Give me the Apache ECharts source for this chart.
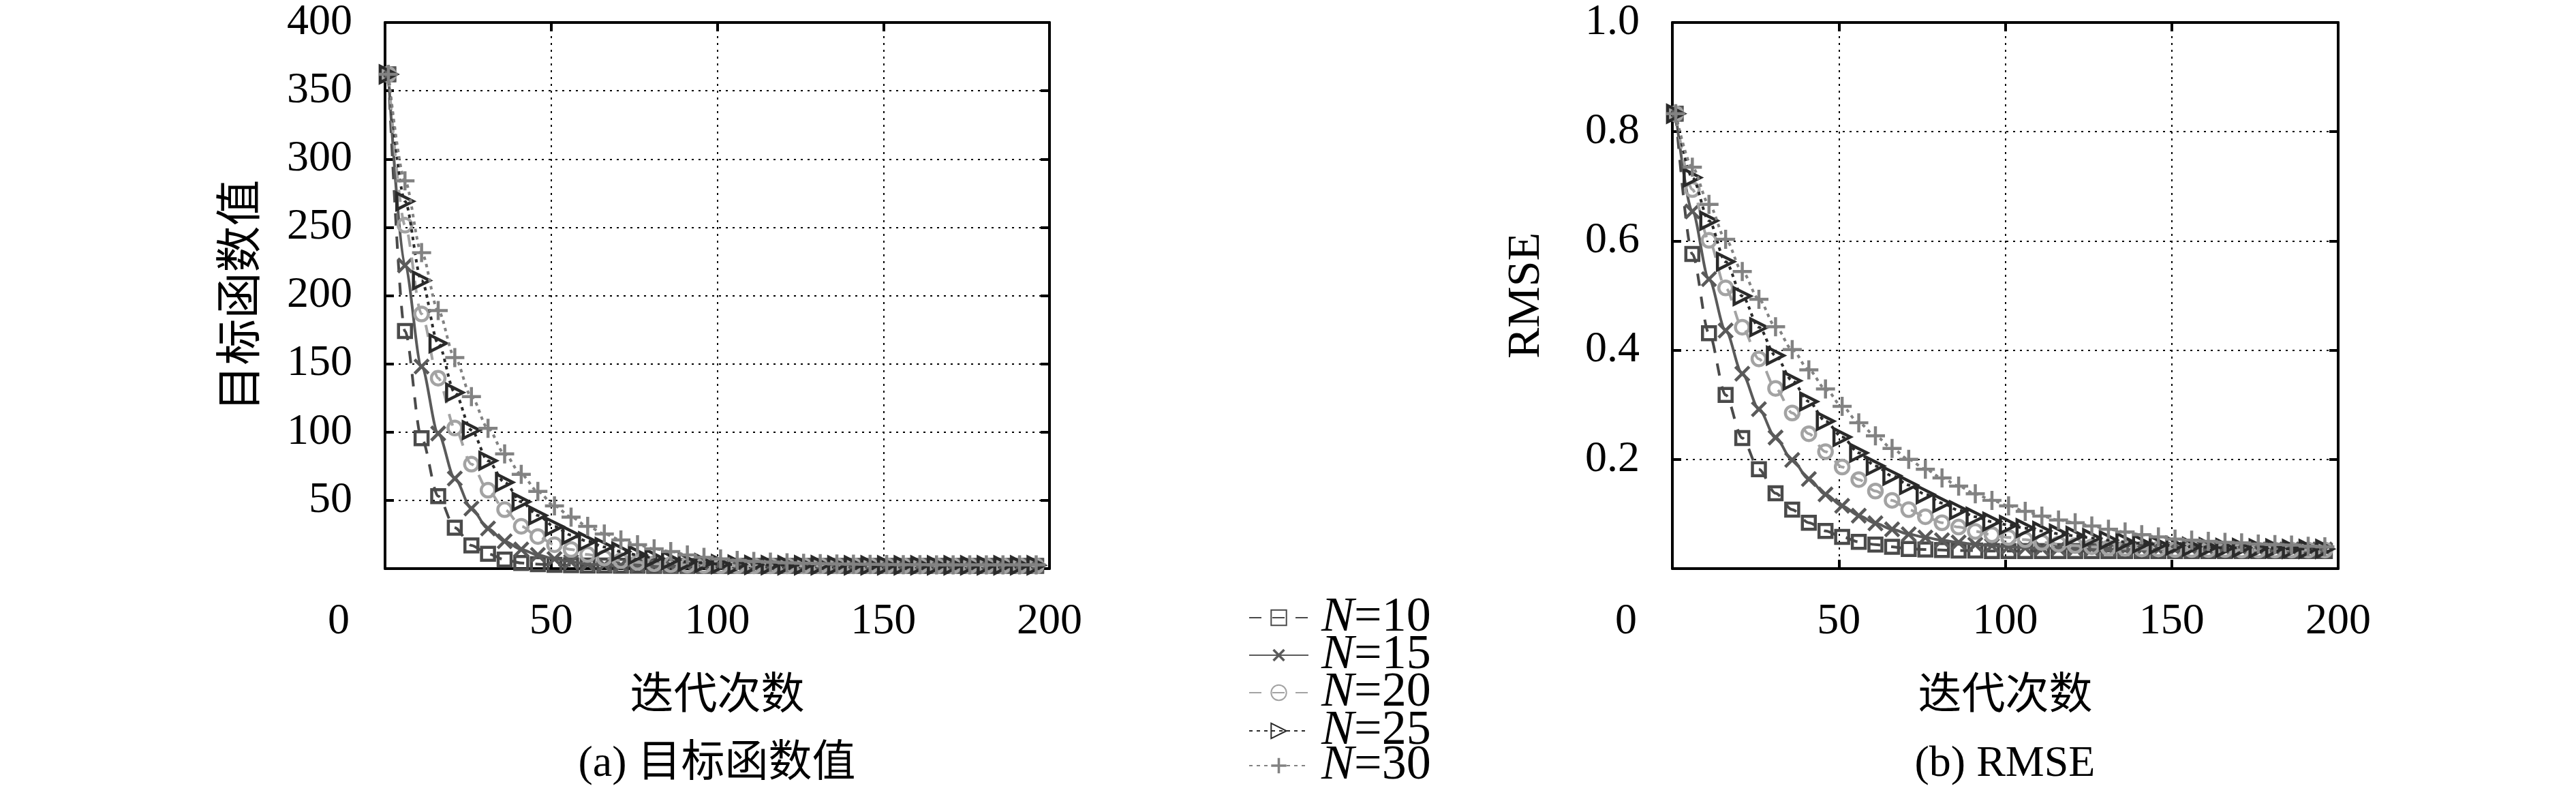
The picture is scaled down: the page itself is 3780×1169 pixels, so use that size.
<!DOCTYPE html>
<html><head><meta charset="utf-8">
<script src="https://cdn.jsdelivr.net/npm/echarts@6/dist/echarts.min.js"></script>
<style>html,body{margin:0;padding:0;background:#fff}#c{width:3780px;height:1169px}</style>
</head><body><div id="c"></div>
<script>
// ---- data ----
const ITER = [1,6,11,16,21,26,31,36,41,46,51,56,61,66,71,76,81,86,91,96,101,106,111,116,121,126,131,136,141,146,151,156,161,166,171,176,181,186,191,196];
const SERIES_NAMES = ['N=10','N=15','N=20','N=25','N=30'];

// (a) objective function value
const OBJ_N10 = [362,174,95.5,53,30,17,10.8,6.6,4.1,3.3,2.8,2.5,2.3,2.2,2.1,2.1,2.0,2.0,2.0,2.0,2.0,2.0,2.0,2.0,2.0,2.0,2.0,2.0,2.0,2.0,2.0,2.0,2.0,2.0,2.0,2.0,2.0,2.0,2.0,2.0];
const OBJ_N15 = [362,222,148,99,66,44,29.4,20,14,10,7.1,5,3.3,2.7,2.4,2.2,2.1,2.0,2.0,2.0,2.0,2.0,2.0,2.0,2.0,2.0,2.0,2.0,2.0,2.0,2.0,2.0,2.0,2.0,2.0,2.0,2.0,2.0,2.0,2.0];
const OBJ_N20 = [362,251.5,186.5,139.5,103,76.5,57.4,43.2,31,23.5,17.5,14,10.3,7.8,5.8,4.6,3.6,3.0,2.6,2.4,2.2,2.1,2.0,2.0,2.0,2.0,2.0,2.0,2.0,2.0,2.0,2.0,2.0,2.0,2.0,2.0,2.0,2.0,2.0,2.0];
const OBJ_N25 = [362,269,211,165,129,101.4,79,63.2,49,39,30.8,24.6,20,15.8,12.5,10,7.8,6.3,5,4.1,3.3,2.9,2.7,2.6,2.5,2.5,2.5,2.4,2.4,2.4,2.4,2.4,2.4,2.4,2.4,2.4,2.4,2.4,2.4,2.4];
const OBJ_N30 = [362,284,231.4,189,154.6,126,102.7,84,69,56.5,46,37.7,31,25.4,21,17.5,14.5,12.5,10,8.3,7.1,6.0,5.3,4.7,4.2,3.9,3.6,3.4,3.2,3.1,3.0,2.9,2.9,2.8,2.8,2.8,2.7,2.7,2.7,2.7];

// (b) RMSE
const RMSE_N10 = [0.833,0.576,0.431,0.318,0.239,0.182,0.138,0.108,0.084,0.069,0.058,0.049,0.044,0.040,0.036,0.035,0.034,0.033,0.033,0.032,0.032,0.032,0.032,0.032,0.032,0.032,0.032,0.032,0.032,0.032,0.032,0.032,0.032,0.032,0.032,0.032,0.032,0.032,0.032,0.032];
const RMSE_N15 = [0.833,0.654,0.530,0.436,0.357,0.292,0.240,0.199,0.164,0.136,0.115,0.097,0.083,0.072,0.063,0.057,0.052,0.048,0.044,0.042,0.040,0.038,0.037,0.037,0.036,0.036,0.036,0.035,0.035,0.035,0.035,0.035,0.035,0.035,0.035,0.035,0.035,0.035,0.035,0.035];
const RMSE_N20 = [0.833,0.694,0.601,0.514,0.442,0.384,0.330,0.285,0.247,0.214,0.186,0.163,0.142,0.125,0.108,0.095,0.084,0.076,0.068,0.062,0.057,0.053,0.048,0.045,0.042,0.040,0.038,0.037,0.036,0.036,0.035,0.035,0.035,0.035,0.034,0.034,0.034,0.034,0.034,0.034];
const RMSE_N25 = [0.833,0.716,0.637,0.562,0.499,0.442,0.390,0.344,0.306,0.270,0.241,0.212,0.188,0.170,0.153,0.136,0.120,0.107,0.095,0.086,0.080,0.074,0.069,0.064,0.060,0.056,0.052,0.049,0.046,0.044,0.042,0.040,0.039,0.038,0.038,0.037,0.037,0.036,0.036,0.036];
const RMSE_N30 = [0.833,0.735,0.667,0.603,0.544,0.493,0.443,0.401,0.364,0.329,0.297,0.267,0.243,0.220,0.200,0.182,0.166,0.151,0.137,0.125,0.115,0.105,0.096,0.089,0.084,0.078,0.072,0.067,0.062,0.058,0.054,0.052,0.050,0.048,0.047,0.045,0.044,0.043,0.041,0.040];

const OBJ = [OBJ_N10, OBJ_N15, OBJ_N20, OBJ_N25, OBJ_N30];
const RMSE = [RMSE_N10, RMSE_N15, RMSE_N20, RMSE_N25, RMSE_N30];

// ---- styles ----
const SERIF = '"Liberation Serif","DejaVu Serif",serif';
const CJK = '"Liberation Serif","Noto Sans CJK SC",sans-serif';
const PLUS = 'path://M4.2,0H5.8V10H4.2ZM0,4.2H10V5.8H0Z';
const STY = [
  {color:'#4a4a4a', dash:[18,16], symbol:'rect', size:19, hollow:true, rot:0},
  {color:'#5a5a5a', dash:'solid', symbol:PLUS, size:29, hollow:false, rot:45},
  {color:'#a3a3a3', dash:[18,16], symbol:'circle', size:20, hollow:true, rot:0},
  {color:'#2a2a2a', dash:[5,6], symbol:'triangle', size:24, hollow:true, rot:-90},
  {color:'#828282', dash:[5,6], symbol:PLUS, size:28, hollow:false, rot:0}
];
const LEGEND_TOPS = [870, 925, 980, 1036, 1087];

const GRIDS = [
  {left:565, top:33, width:975, height:801},
  {left:2454, top:33, width:977, height:801}
];

function xLabelFmt(v){ return v === 0 ? '{z|0}' : String(v); }
const AX_LINE = {show:true, onZero:false, lineStyle:{color:'#000', width:4}};
const AX_TICK = {show:true, inside:true, length:13, lineStyle:{color:'#000', width:4}};
const GRID_LINE = {show:true, lineStyle:{color:'#000', width:2, type:[3,7]}};

const xAxes = [], yAxes = [];
[0,1].forEach(g => {
  xAxes.push({
    type:'value', gridIndex:g, min:0, max:200, interval:50, position:'bottom',
    axisLine:AX_LINE, axisTick:AX_TICK,
    axisLabel:{show:true, margin:46, fontFamily:SERIF, fontSize:64, color:'#000', lineHeight:64,
      formatter:xLabelFmt, rich:{z:{fontFamily:SERIF, fontSize:64, padding:[0,136,0,0]}}},
    splitLine:GRID_LINE,
    name:'迭代次数', nameLocation:'middle', nameGap:156,
    nameTextStyle:{fontFamily:CJK, fontSize:64, color:'#000'}
  });
  xAxes.push({
    type:'value', gridIndex:g, min:0, max:200, interval:50, position:'top',
    axisLine:AX_LINE, axisTick:AX_TICK, axisLabel:{show:false}, splitLine:{show:false}
  });
});
yAxes.push({
  type:'value', gridIndex:0, min:0, max:400, interval:50, position:'left',
  axisLine:AX_LINE, axisTick:AX_TICK,
  axisLabel:{margin:48, fontFamily:SERIF, fontSize:64, color:'#000', formatter:v => v === 0 ? '' : String(v)},
  splitLine:GRID_LINE,
  name:'目标函数值', nameLocation:'middle', nameGap:174, nameRotate:90,
  nameTextStyle:{fontFamily:CJK, fontSize:68, color:'#000'}
});
yAxes.push({
  type:'value', gridIndex:0, min:0, max:400, interval:50, position:'right',
  axisLine:AX_LINE, axisTick:AX_TICK, axisLabel:{show:false}, splitLine:{show:false}
});
yAxes.push({
  type:'value', gridIndex:1, min:0, max:1, interval:0.2, position:'left',
  axisLine:AX_LINE, axisTick:AX_TICK,
  axisLabel:{margin:48, fontFamily:SERIF, fontSize:64, color:'#000', formatter:v => v === 0 ? '' : v.toFixed(1)},
  splitLine:GRID_LINE,
  name:'RMSE', nameLocation:'middle', nameGap:180, nameRotate:90,
  nameTextStyle:{fontFamily:SERIF, fontSize:68, color:'#000'}
});
yAxes.push({
  type:'value', gridIndex:1, min:0, max:1, interval:0.2, position:'right',
  axisLine:AX_LINE, axisTick:AX_TICK, axisLabel:{show:false}, splitLine:{show:false}
});

function mkSeries(vals, i, xi, yi){
  const s = STY[i];
  return {
    type:'line', name:SERIES_NAMES[i], xAxisIndex:xi, yAxisIndex:yi,
    data: ITER.map((x,k) => [x, vals[k]]),
    smooth:0.3, smoothMonotone:'x',
    symbol:s.symbol, symbolSize:s.size, symbolRotate:s.rot, showAllSymbol:true,
    lineStyle:{color:s.color, width:4, type:s.dash},
    itemStyle: s.hollow ? {color:'rgba(255,255,255,0)', borderColor:s.color, borderWidth:4.5}
                        : {color:s.color, borderWidth:0},
    color:s.color,
    emphasis:{disabled:true}, z:2+i
  };
}
const series = [];
OBJ.forEach((v,i) => series.push(mkSeries(v,i,0,0)));
RMSE.forEach((v,i) => series.push(mkSeries(v,i,2,2)));

const legends = SERIES_NAMES.map((n,i) => ({
  data:[n], orient:'vertical', left:1832, top:LEGEND_TOPS[i], padding:0,
  itemWidth:87, itemHeight:28, itemGap:0, selectedMode:false,
  formatter: s => '{i|N}{r|' + s.slice(1) + '}',
  textStyle:{color:'#000', fontFamily:SERIF, fontSize:72,
    rich:{i:{fontFamily:SERIF, fontStyle:'italic', fontSize:72, padding:[0,0,0,14]},
          r:{fontFamily:SERIF, fontSize:72}}}
}));

const chart = echarts.init(document.getElementById('c'), null, {renderer:'canvas'});
chart.setOption({
  animation:false,
  backgroundColor:'#fff',
  grid:GRIDS,
  xAxis:xAxes,
  yAxis:yAxes,
  legend:legends,
  graphic:[
    {type:'text', x:1052, y:1121, style:{text:'(a) 目标函数值', font:'64px ' + CJK, fill:'#000', textAlign:'center', textVerticalAlign:'middle'}},
    {type:'text', x:2942, y:1121, style:{text:'(b) RMSE', font:'64px ' + SERIF, fill:'#000', textAlign:'center', textVerticalAlign:'middle'}}
  ],
  series:series
});
</script>
</body></html>
